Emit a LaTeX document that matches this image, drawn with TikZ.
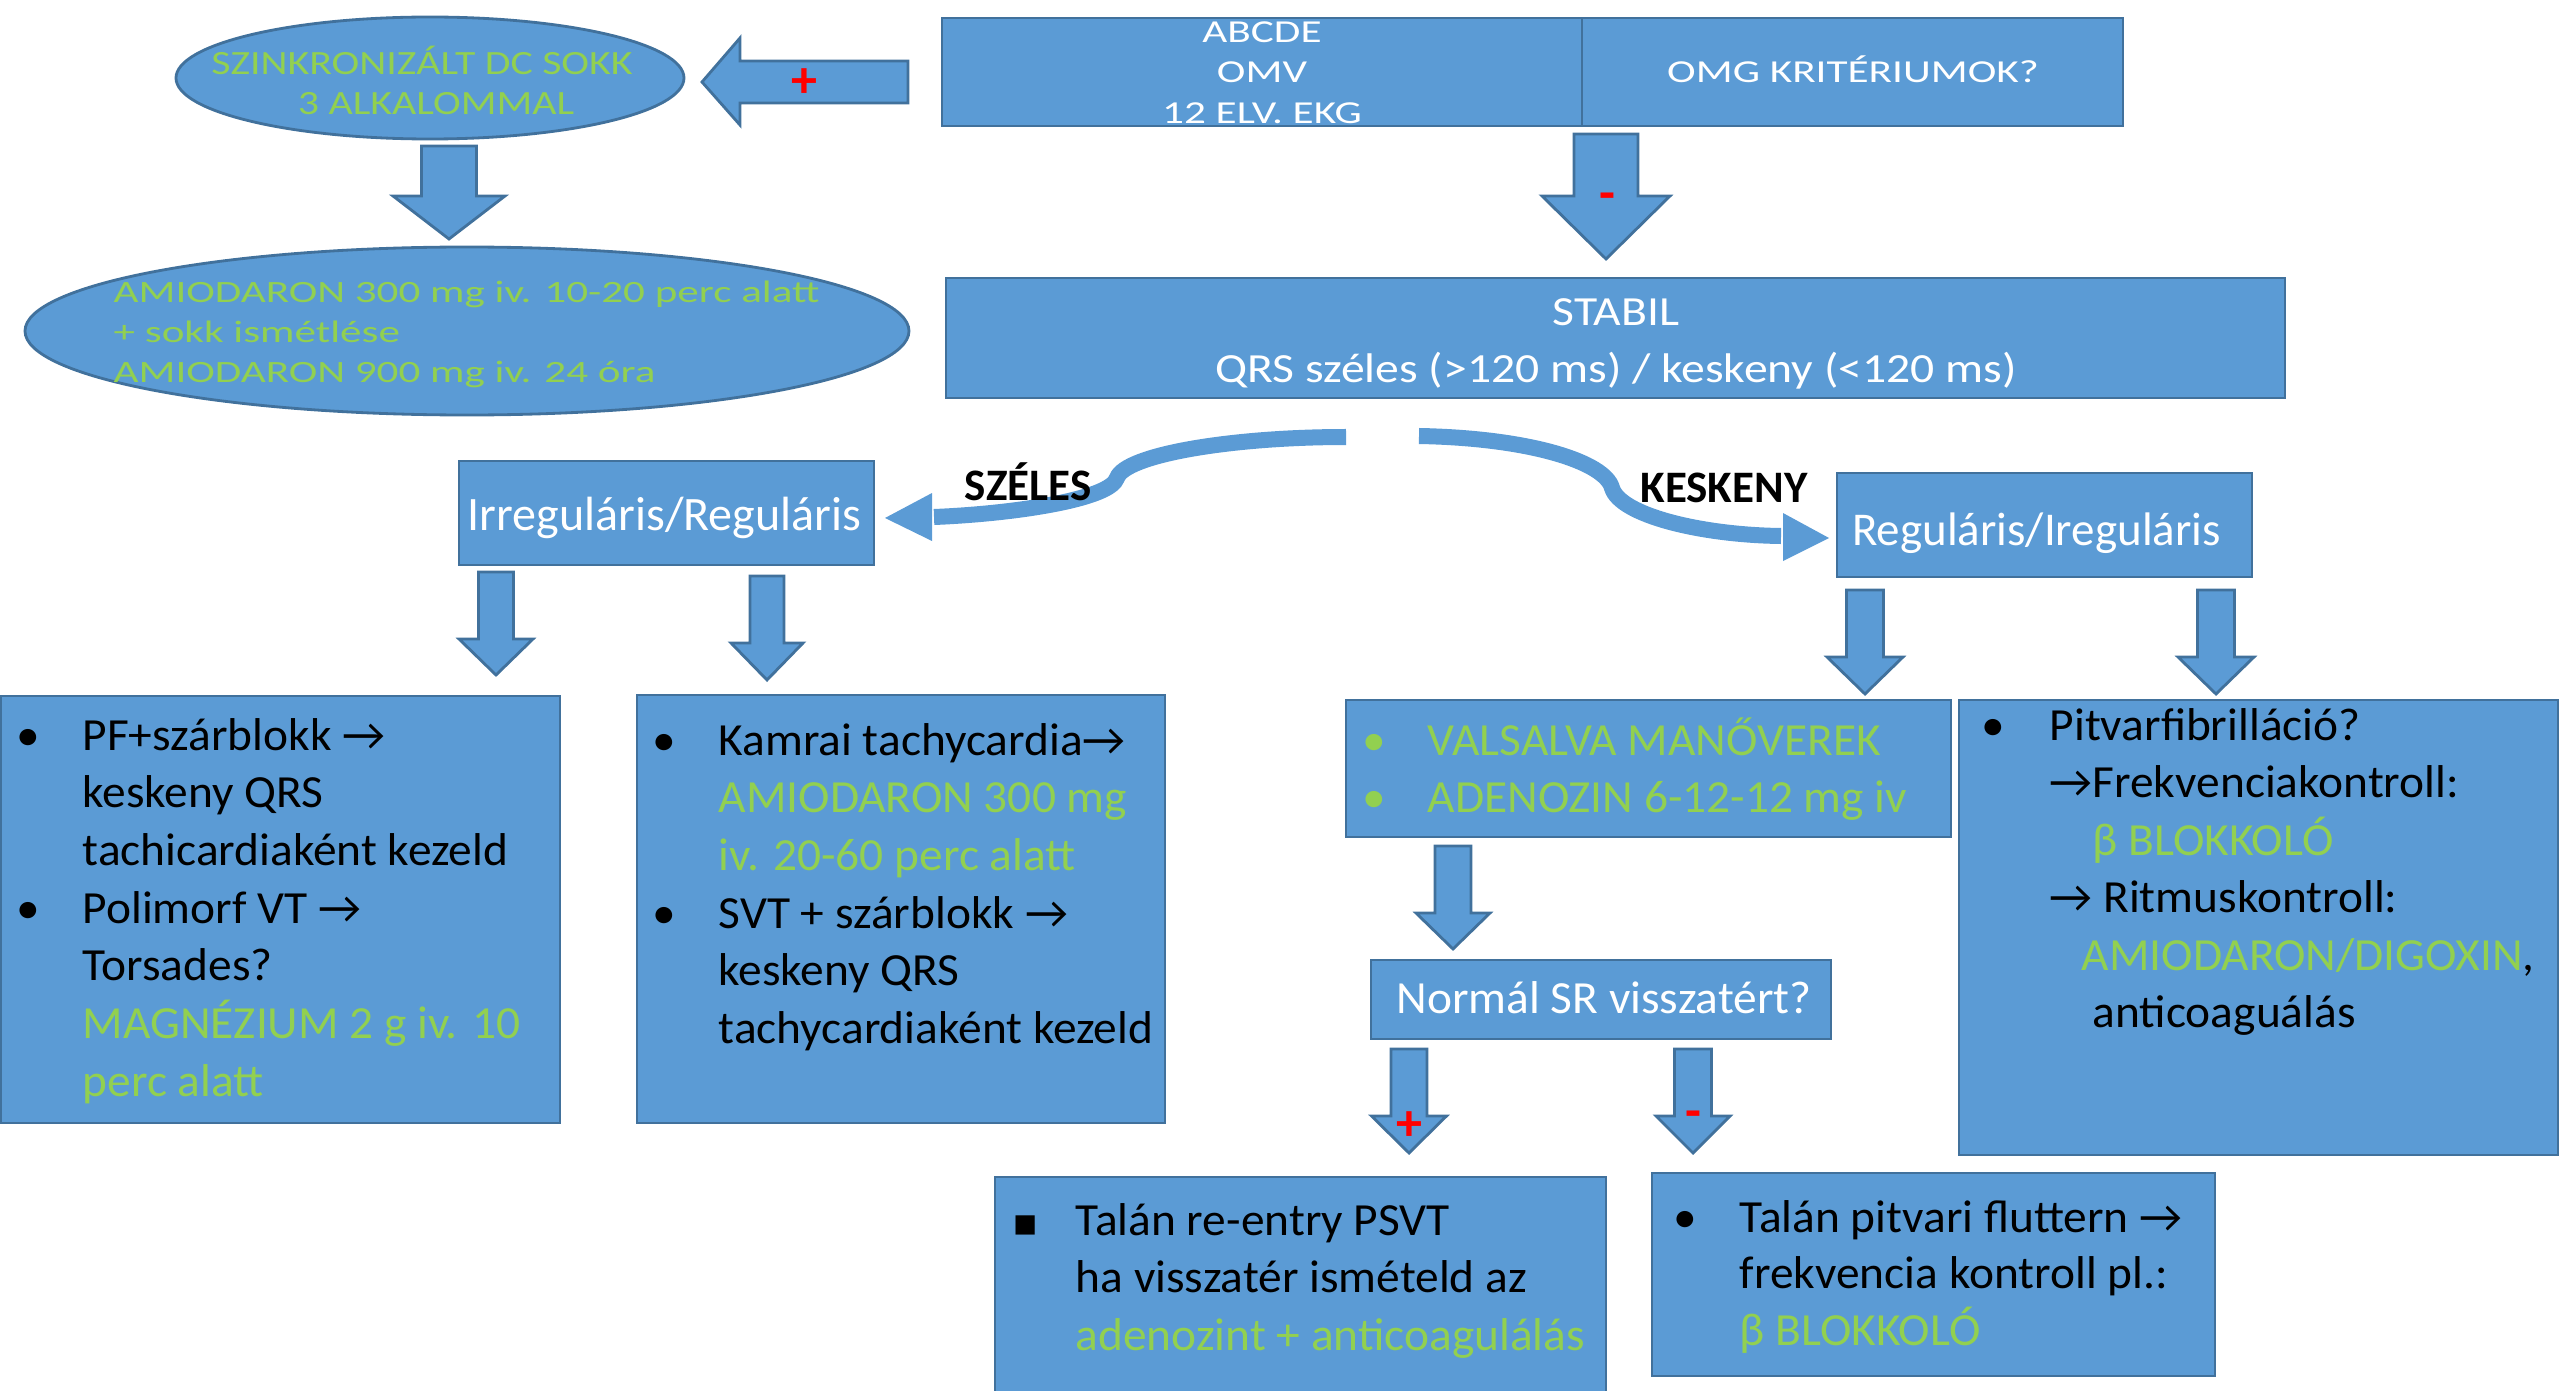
\documentclass[tikz,border=0pt]{standalone}
\usepackage{fontspec}
\setmainfont{Carlito}
\newfontfamily\fTop{Carlito}[FakeStretch=1.35]
\newfontfamily\fEllA{Carlito}[FakeStretch=1.23]
\newfontfamily\fEllB{Carlito}[FakeStretch=1.39]
\newfontfamily\fStab{Carlito}[FakeStretch=1.15]
\newfontfamily\fBody{Carlito}[FakeStretch=1.03]
\newfontfamily\fSym{DejaVu Sans}
\usetikzlibrary{shapes.geometric}
\definecolor{bfill}{HTML}{5B9BD5}
\definecolor{bord}{HTML}{41719C}
\definecolor{grn}{HTML}{92D050}
\newcommand\fsz[1]{\fontsize{#1pt}{#1pt}\selectfont}
\newcommand\rarr{→}
\newcommand\darr[6]{\draw[blk] ({#1-#3},#2) -- ({#1+#3},#2) -- ({#1+#3},#5) -- ({#1+#4},#5) -- (#1,#6) -- ({#1-#4},#5) -- ({#1-#3},#5) -- cycle;}
\begin{document}
\begin{tikzpicture}[x=0.01cm,y=-0.01cm,
  box/.style={draw=bord, fill=bfill, line width=0.8pt, rectangle, inner sep=0pt, outer sep=0pt},
  ell/.style={draw=bord, fill=bfill, line width=0.8pt, ellipse, inner sep=0pt},
  blk/.style={draw=bord, fill=bfill, line width=0.8pt, line join=miter},
  tl/.style={inner sep=0pt, anchor=base west},
  tc/.style={inner sep=0pt, anchor=base},
  body/.style={font=\fBody\fsz{13.09}},
  curv/.style={draw=bfill, line width=0.16cm},
  redmark/.style={inner sep=0pt, text=red, font=\bfseries\fsz{14.8}},
]
\useasboundingbox (0,0) rectangle (2560,1391);
\clip (0,0) rectangle (2560,1391);

% ---------- shapes ----------
\node[ell, minimum width={508*0.01cm}, minimum height={122*0.01cm}] (e1) at (430,78) {};
\node[ell, minimum width={884*0.01cm}, minimum height={168*0.01cm}] (e2) at (467,331) {};
\node[box, minimum width={640*0.01cm}, minimum height={108*0.01cm}] (topL) at (1262,72) {};
\node[box, minimum width={541*0.01cm}, minimum height={108*0.01cm}] (topR) at (1852.5,72) {};
\node[box, minimum width={1339*0.01cm}, minimum height={120*0.01cm}] (stab) at (1615.5,338) {};
\node[box, minimum width={415*0.01cm}, minimum height={104*0.01cm}] (irr) at (666.5,513) {};
\node[box, minimum width={415*0.01cm}, minimum height={104*0.01cm}] (reg) at (2044.5,525) {};
\node[box, minimum width={559*0.01cm}, minimum height={427*0.01cm}] (bl1) at (280.5,909.5) {};
\node[box, minimum width={528*0.01cm}, minimum height={428*0.01cm}] (bl2) at (901,909) {};
\node[box, minimum width={605*0.01cm}, minimum height={137*0.01cm}] (val) at (1648.5,768.5) {};
\node[box, minimum width={599*0.01cm}, minimum height={455*0.01cm}] (pit) at (2258.5,927.5) {};
\node[box, minimum width={460*0.01cm}, minimum height={79*0.01cm}] (nsr) at (1601,999.5) {};
\node[box, minimum width={611*0.01cm}, minimum height={240*0.01cm}] (bA) at (1300.5,1297) {};
\node[box, minimum width={563*0.01cm}, minimum height={203*0.01cm}] (bB) at (1933.5,1274.5) {};

% ---------- block arrows ----------
\draw[blk] (908,61) -- (740,61) -- (740,38) -- (702,82) -- (740,125) -- (740,103) -- (908,103) -- cycle;
\darr{1606}{134}{32}{64}{196}{259}
\darr{449}{146}{27.5}{56}{196}{239}
\darr{496}{572}{17.5}{37}{639}{675}
\darr{767}{576}{17}{36}{643}{680}
\darr{1865}{590}{18.5}{38}{657}{694}
\darr{2216}{590}{18.5}{38}{657}{694}
\darr{1453}{846}{18}{37}{913}{949}
\darr{1409}{1049}{18}{37.5}{1116}{1153}
\darr{1693}{1049}{18.5}{37}{1116}{1153}

% ---------- curved arrows ----------
\coordinate (cl0) at (1346,437);
\coordinate (cl1) at (1117,478);
\coordinate (cl2) at (934,517);
\coordinate (cr0) at (1419,436);
\coordinate (cr1) at (1612,488);
\coordinate (cr2) at (1781,536);
\draw[curv] (cl0) .. controls (1230,437) and (1125,455) .. (cl1) .. controls (1110,500) and (1010,514) .. (cl2);
\fill[bfill] (932,493) -- (885,518) -- (932,541) -- cycle;
\draw[curv] (cr0) .. controls (1530,438) and (1605,462) .. (cr1) .. controls (1620,515) and (1700,535) .. (cr2);
\fill[bfill] (1783,513) -- (1829,538) -- (1783,561) -- cycle;

% ---------- red signs ----------
\node[redmark] (p1) at (804,83) {+};
\node[redmark] (m1) at (1607,202) {-};
\node[redmark] (p2) at (1409,1126) {+};
\node[redmark] (m2) at (1693,1120) {-};

% ---------- texts ----------
\begin{scope}[text=white, font=\fTop\fsz{9.1}]
\node[tc] (tA) at (1262,43) {ABCDE};
\node[tc] (tB) at (1262,83) {OMV};
\node[tc] (tC) at (1262,124) {12 ELV. EKG};
\node[tc] (tD) at (1853,83) {OMG KRITÉRIUMOK?};
\end{scope}

\begin{scope}[text=grn, font=\fEllA\fsz{9.67}]
\node[tc] (e1a) at (422,75) {SZINKRONIZÁLT DC SOKK};
\node[tc] (e1b) at (436,115) {3 ALKALOMMAL};
\end{scope}
\begin{scope}[text=grn, font=\fEllB\fsz{8.82}]
\node[tl] (e2a) at (113,302) {AMIODARON 300 mg iv. 10-20 perc alatt};
\node[tl] (e2b) at (113,342) {+ sokk ismétlése};
\node[tl] (e2c) at (113,383) {AMIODARON 900 mg iv. 24 óra};
\end{scope}

\begin{scope}[text=white, font=\fStab\fsz{11.78}]
\node[tc] (s1) at (1616,325) {STABIL};
\node[tc] (s2) at (1616,382) {QRS széles (>120 ms) / keskeny (<120 ms)};
\end{scope}

\node[tc, text=white, font=\fsz{13.66}] (irrT) at (664.5,530) {Irreguláris/Reguláris};
\node[tc, text=white, font=\fsz{13.37}] (regT) at (2036.5,545) {Reguláris/Ireguláris};
\node[tc, text=white, font=\fBody\fsz{13.09}] (nsrT) at (1604,1013) {Normál SR visszatért?};
\node[tc, font=\bfseries\fsz{12.8}] (szel) at (1028,500) {SZÉLES};
\node[tc, font=\bfseries\fsz{12.8}] (kesk) at (1724,502) {KESKENY};

\begin{scope}[body]
% box L1
\node[tc] (l1b1) at (28,750) {•};
\node[tl] (l1a) at (82,750) {PF+szárblokk \rarr};
\node[tl] (l1b) at (82,807.6) {keskeny QRS};
\node[tl] (l1c) at (82,865) {tachicardiaként kezeld};
\node[tc] (l1b2) at (28,923) {•};
\node[tl] (l1d) at (82,923) {Polimorf VT \rarr};
\node[tl] (l1e) at (82,980) {Torsades?};
\node[tl, text=grn] (l1f) at (82,1038) {MAGNÉZIUM 2 g iv. 10};
\node[tl, text=grn] (l1g) at (82,1096) {perc alatt};
% box L2
\node[tc] (l2b1) at (664,755) {•};
\node[tl] (l2a) at (718,755) {Kamrai tachycardia\rarr};
\node[tl, text=grn] (l2b) at (718,812.6) {AMIODARON 300 mg};
\node[tl, text=grn] (l2c) at (718,870) {iv. 20-60 perc alatt};
\node[tc] (l2b2) at (664,928) {•};
\node[tl] (l2d) at (718,928) {SVT + szárblokk \rarr};
\node[tl] (l2e) at (718,985) {keskeny QRS};
\node[tl] (l2f) at (718,1043) {tachycardiaként kezeld};
% Valsalva
\node[tc, text=grn] (vb1) at (1374,755) {•};
\node[tl, text=grn] (va) at (1427,755) {VALSALVA MANŐVEREK};
\node[tc, text=grn] (vb2) at (1374,812) {•};
\node[tl, text=grn] (vb) at (1427,812) {ADENOZIN 6-12-12 mg iv};
% Pitvar
\node[tc] (pb1) at (1993,740) {•};
\node[tl] (pa) at (2049,740) {Pitvarfibrilláció?};
\node[tl] (pbT) at (2049,797) {\rarr Frekvenciakontroll:};
\node[tl, text=grn] (pc) at (2092,855) {β BLOKKOLÓ};
\node[tl] (pd) at (2049,912) {\rarr\ Ritmuskontroll:};
\node[tl] (pe) at (2081,970) {\textcolor{grn}{AMIODARON/DIGOXIN},};
\node[tl] (pf) at (2092,1027) {anticoaguálás};
% bottom A
\node[tc, font=\fSym\fsz{11}] (ab1) at (1026,1235) {▪};
\node[tl] (aa) at (1075,1235) {Talán re-entry PSVT};
\node[tl] (ab) at (1075,1292) {ha visszatér ismételd az};
\node[tl, text=grn] (ac) at (1075,1350) {adenozint + anticoagulálás};
% bottom B
\node[tc] (bb1) at (1685,1232) {•};
\node[tl] (ba) at (1739,1232) {Talán pitvari fluttern \rarr};
\node[tl] (bbT) at (1739,1288) {frekvencia kontroll pl.:};
\node[tl, text=grn] (bc) at (1739,1345) {β BLOKKOLÓ};
\end{scope}
\end{tikzpicture}
\end{document}
